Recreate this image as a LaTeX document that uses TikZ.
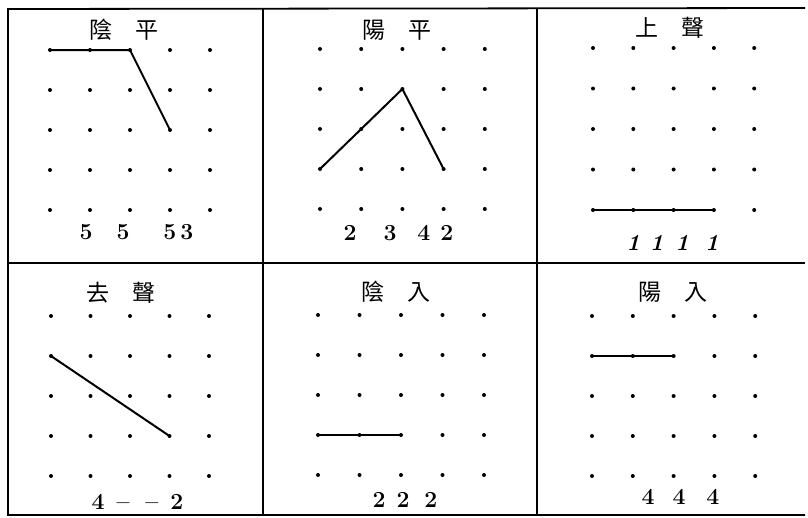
\documentclass[tikz,border=0pt]{standalone}
\usepackage{fontspec}
\newfontfamily\cjk{Noto Sans CJK TC}
\tikzset{
  frame/.style={line width=1.8pt, black},
  tone/.style={line width=2pt, black, line cap=round, line join=round},
  gdot/.style={fill=black},
  title/.style={font=\cjk\fontsize{23}{25}\selectfont, inner sep=0pt},
  digits/.style={font=\bfseries\fontsize{23}{25}\selectfont, inner sep=0pt},
}
\newcommand{\dotgrid}[5]{% name, x0, y0, dx, dy
  \foreach \c in {0,...,4}{
    \foreach \r in {0,...,4}{
      \coordinate (#1-\c-\r) at ({#2+\c*#4},{#3+\r*#5});
      \fill[gdot] (#1-\c-\r) circle (2pt);
    }
  }
}
\begin{document}
\begin{tikzpicture}[x=1pt,y=-1pt]
\useasboundingbox (0,0) rectangle (808,517);
% frame
\coordinate (tl) at (8,9);
\coordinate (tr) at (805,8);
\coordinate (ml) at (8,263);
\coordinate (mr) at (805,263);
\coordinate (bl) at (8,515);
\coordinate (br) at (805,515);
\coordinate (c1t) at (263,9);
\coordinate (c1b) at (263,515);
\coordinate (c2t) at (537,9);
\coordinate (c2b) at (537,515);
\draw[frame] (tr) -- (tl) -- (bl) -- (br);
\draw[frame] (ml) -- (mr);
\draw[frame] (c1t) -- (c1b);
\draw[frame] (c2t) -- (c2b);

% grids
\dotgrid{a}{50}{50}{40}{40}
\dotgrid{b}{320}{49}{41.2}{40}
\dotgrid{c}{593}{48}{40.3}{40.5}
\dotgrid{d}{51}{316}{39.5}{40}
\dotgrid{e}{318}{315}{41.5}{40}
\dotgrid{f}{592}{316}{40.8}{40}

% tone contours
\draw[tone] (a-0-0) -- (a-2-0) -- (a-3-2);
\draw[tone] (b-0-3) -- (b-1-2) -- (b-2-1) -- (b-3-3);
\draw[tone] (c-0-4) -- (c-3-4);
\draw[tone] (d-0-1) -- (d-3-3);
\draw[tone] (e-0-3) -- (e-2-3);
\draw[tone] (f-0-1) -- (f-2-1);

% titles
\node[title] (ta) at (124,30) {陰\hspace{1em}平};
\node[title] (tb) at (397,30) {陽\hspace{1em}平};
\node[title] (tc) at (670,28) {上\hspace{1em}聲};
\node[title] (td) at (121,293) {去\hspace{1em}聲};
\node[title] (te) at (396,292) {陰\hspace{1em}入};
\node[title] (tf) at (673,292) {陽\hspace{1em}入};

% pitch numbers
\node[digits] (na) at (136.5,232) {5\hspace{24pt}5\hspace{34pt}5\hspace{4pt}3};
\node[digits] (nb) at (398.5,233) {2\hspace{27pt}3\hspace{21pt}4\hspace{10pt}2};
\node[digits] (nc) at (672.5,243) {\itshape 1\hspace{10pt}1\hspace{12pt}1\hspace{16pt}1};
\node[digits] (nd) at (137.5,502) {4\hspace{12pt}--\hspace{16pt}--\hspace{12pt}2};
\node[digits] (ne) at (405,500) {2\hspace{11pt}2\hspace{15pt}2};
\node[digits] (nf) at (680.5,497) {4\hspace{18pt}4\hspace{21pt}4};
\end{tikzpicture}
\end{document}
